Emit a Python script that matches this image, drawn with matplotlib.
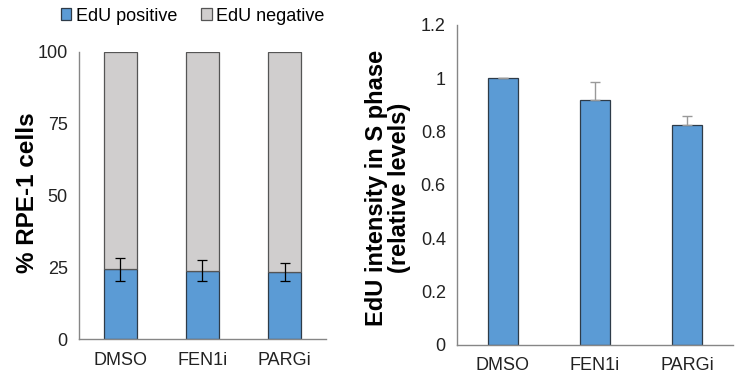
import matplotlib
matplotlib.use("Agg")
import matplotlib.pyplot as plt
import numpy as np

plt.rcParams["font.family"] = ["Liberation Sans", "DejaVu Sans"]

# Left panel: % RPE-1 cells (stacked)
categories = ["DMSO", "FEN1i", "PARGi"]
edu_positive = [24.5, 23.9, 23.5]
edu_positive_err = [4.0, 3.6, 3.1]
edu_negative = [100 - v for v in edu_positive]
left_ticks = [0, 25, 50, 75, 100]

# Right panel: EdU intensity in S phase
intensity = [1.0, 0.92, 0.825]
intensity_err = [0.0, 0.066, 0.034]
right_ticks = [0, 0.2, 0.4, 0.6, 0.8, 1.0, 1.2]
right_ticklabels = ["0", "0.2", "0.4", "0.6", "0.8", "1", "1.2"]

blue = "#5B9BD5"
grey = "#D0CECE"
edge = "#2E3B48"
spine_col = "#868686"

fig = plt.figure(figsize=(7.43, 3.77), dpi=100)
ax1 = fig.add_axes([0.1063, 0.0995, 0.3324, 0.7626])
ax2 = fig.add_axes([0.615, 0.0849, 0.3715, 0.8488])

x = np.arange(len(categories))

###############################################################################
# Left panel
ax1.bar(x, edu_positive, width=0.4, color=blue, edgecolor=edge, linewidth=0.9,
        label="EdU positive", zorder=2)
ax1.bar(x, edu_negative, width=0.4, bottom=edu_positive, color=grey,
        edgecolor="#555555", linewidth=0.9, label="EdU negative", zorder=2)
ax1.errorbar(x, edu_positive, yerr=edu_positive_err, fmt="none", ecolor="black",
             elinewidth=0.9, capsize=3.3, capthick=0.9, zorder=3)
ax1.set_xlim(-0.5, 2.5)
ax1.set_ylim(0, 100)
ax1.set_yticks(left_ticks)
ax1.set_xticks(x)
ax1.set_xticklabels(categories)
ax1.set_ylabel("% RPE-1 cells", fontsize=17.5, fontweight="bold")
ax1.yaxis.set_label_coords(-0.16, 0.51)
ax1.legend(loc="center", bbox_to_anchor=(0.46, 1.125), ncol=2, frameon=False,
           fontsize=13, handlelength=0.6, handleheight=0.6, handletextpad=0.25,
           columnspacing=1.3, borderaxespad=0)

###############################################################################
# Right panel
ax2.bar(x, intensity, width=0.32, color=blue, edgecolor=edge, linewidth=0.9,
        zorder=2)
ax2.errorbar(x, intensity, yerr=[np.zeros(len(x)), intensity_err], fmt="none",
             ecolor="#999999", elinewidth=1.0, capsize=3.5, capthick=1.0, zorder=3)
ax2.set_xlim(-0.5, 2.5)
ax2.set_ylim(0, 1.2)
ax2.set_yticks(right_ticks)
ax2.set_yticklabels(right_ticklabels)
ax2.set_xticks(x)
ax2.set_xticklabels(categories)
ax2.set_ylabel("EdU intensity in S phase\n(relative levels)", fontsize=17,
               fontweight="bold", linespacing=1.0)
ax2.yaxis.set_label_coords(-0.168, 0.49)

for ax in (ax1, ax2):
    for s in ("top", "right"):
        ax.spines[s].set_visible(False)
    ax.spines["left"].set_color(spine_col)
    ax.spines["bottom"].set_color(spine_col)
    ax.spines["left"].set_linewidth(1.0)
    ax.spines["bottom"].set_linewidth(1.0)
    ax.tick_params(length=0, labelsize=13, colors="#222222", pad=8)
    ax.tick_params(axis="x", pad=9)

fig.savefig("out.png", dpi=100)
